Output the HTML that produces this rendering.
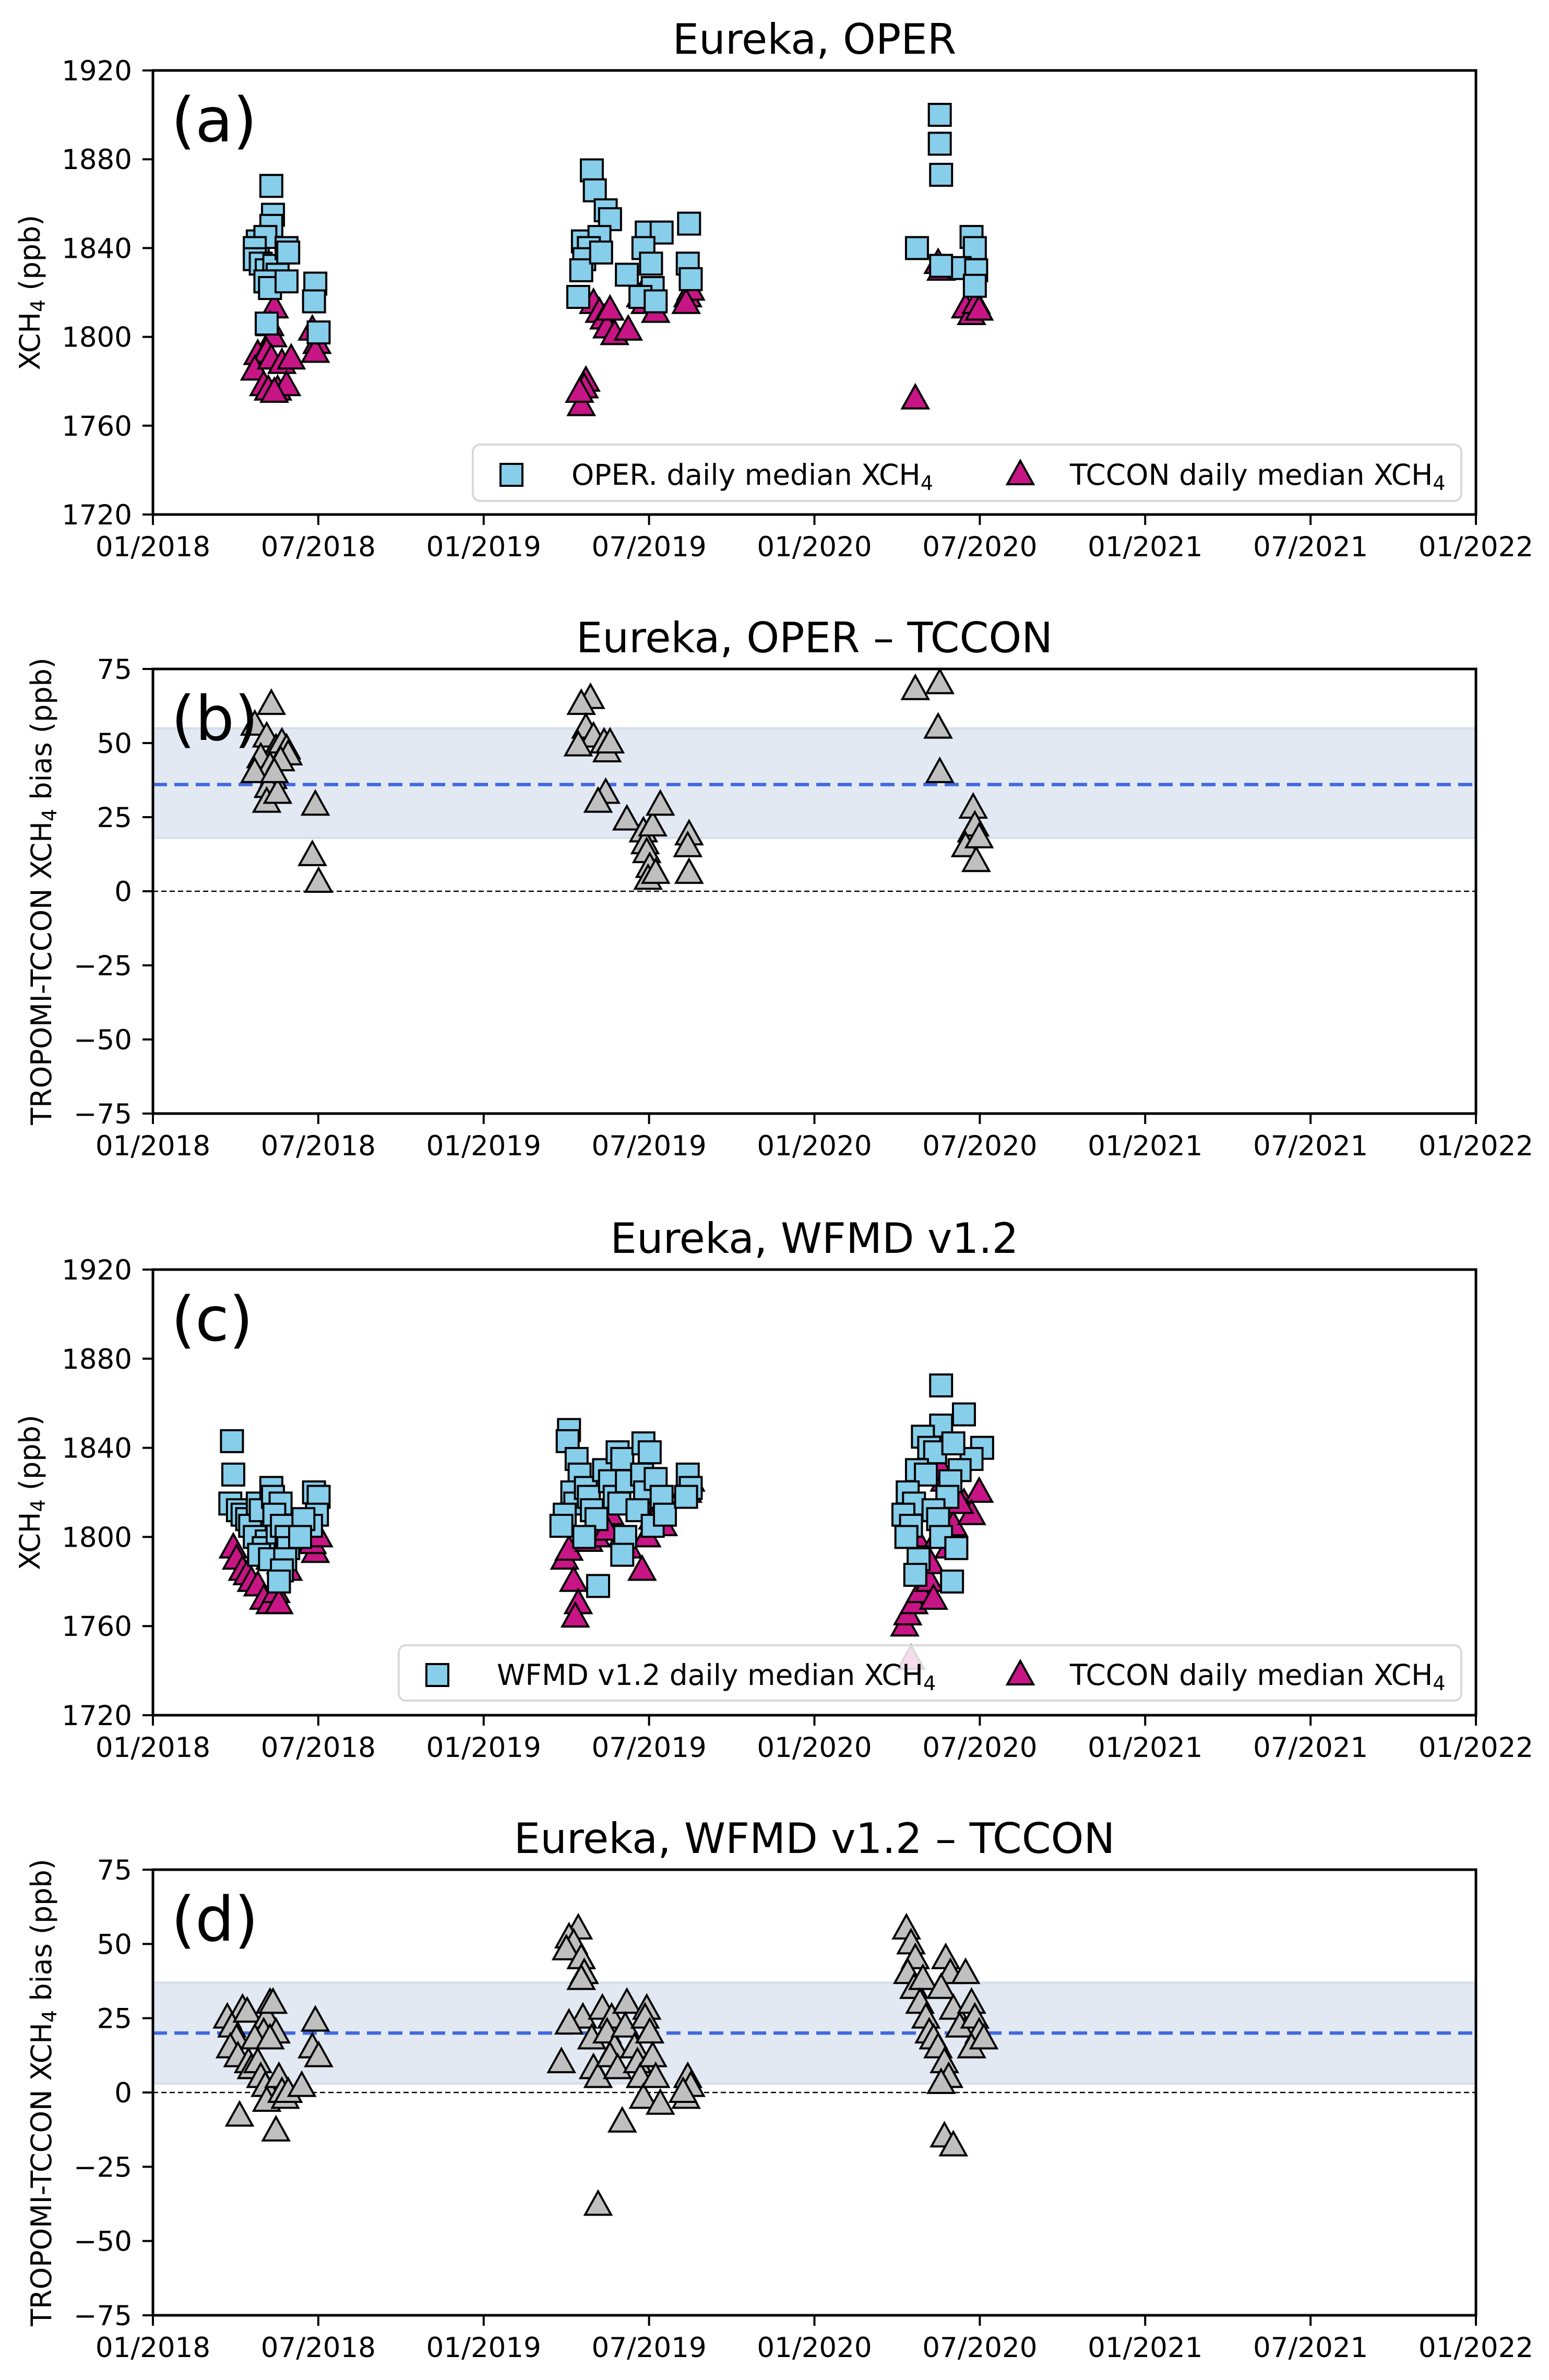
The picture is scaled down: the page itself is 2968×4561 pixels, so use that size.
<!DOCTYPE html>
<html><head><meta charset="utf-8"><title>Eureka XCH4 comparison</title>
<style>html,body{margin:0;padding:0;background:#fff}svg{display:block}text{font-family:"DejaVu Sans","Liberation Sans",sans-serif;fill:#000}</style>
</head><body>
<svg id="fig" xmlns="http://www.w3.org/2000/svg" width="2968" height="4561" viewBox="0 0 2968 4561"></svg>
<script>
// ---------- DATA (x in decimal years, y in ppb) ----------
const xTickLabels = ["01/2018","07/2018","01/2019","07/2019","01/2020","07/2020","01/2021","07/2021","01/2022"];
const xTickYears = [2018,2018.5,2019,2019.5,2020,2020.5,2021,2021.5,2022];
const xchTicks = [1720,1760,1800,1840,1880,1920];
const biasTicks = [-75,-50,-25,0,25,50,75];

const operX = [2018.358,2018.363,2018.358,2018.317,2018.340,2018.308,2018.308,2018.326,2018.344,2018.367,2018.377,2018.340,2018.354,2018.404,2018.409,2018.404,2018.344,2018.491,2018.487,2018.501,
 2019.327,2019.336,2019.369,2019.382,2019.300,2019.350,2019.318,2019.304,2019.295,2019.286,2019.355,2019.433,2019.493,2019.538,2019.483,2019.506,2019.511,2019.474,2019.520,2019.621,2019.617,2019.626,
 2020.379,2020.379,2020.383,2020.310,2020.475,2020.485,2020.439,2020.489,2020.485,2020.383];
const operY = [1868,1855,1850,1843,1845,1840,1835,1833,1830,1832,1828,1825,1822,1840,1838,1825,1806,1824,1816,1802,
 1875,1866,1857,1853,1843,1845,1840,1835,1830,1818,1838,1828,1847,1847,1840,1833,1822,1818,1816,1851,1833,1826,
 1900,1887,1873,1840,1845,1840,1831,1830,1823,1832];
const tcconAX = [2018.367,2018.354,2018.363,2018.317,2018.331,2018.344,2018.308,2018.358,2018.390,2018.418,2018.335,2018.349,2018.377,2018.404,2018.367,2018.482,2018.496,2018.491,
 2019.309,2019.304,2019.295,2019.290,2019.332,2019.350,2019.364,2019.373,2019.396,2019.382,2019.437,2019.474,2019.488,2019.520,2019.617,2019.626,2019.612,
 2020.305,2020.374,2020.383,2020.457,2020.475,2020.489,2020.498];
const tcconAY = [1813,1805,1800,1792,1790,1793,1785,1790,1788,1790,1778,1776,1776,1778,1775,1803,1797,1793,
 1780,1777,1769,1775,1815,1811,1808,1804,1801,1812,1803,1818,1815,1811,1818,1821,1815,
 1772,1833,1830,1813,1810,1815,1812];

const biasBX = [2018.358,2018.308,2018.344,2018.372,2018.326,2018.390,2018.404,2018.409,2018.354,2018.308,2018.363,2018.349,2018.344,2018.377,2018.491,2018.482,2018.501,2018.386,2018.367,
 2019.323,2019.295,2019.309,2019.332,2019.286,2019.364,2019.373,2019.382,2019.369,2019.346,2019.433,2019.483,2019.488,2019.493,2019.502,2019.497,2019.511,2019.534,2019.520,2019.621,2019.617,2019.621,
 2020.305,2020.379,2020.374,2020.379,2020.480,2020.475,2020.485,2020.457,2020.489,2020.498];
const biasBY = [63,56,52,48,45,50,48,46,42,40,38,35,30,33,29,12,3,44,40,
 65,63,55,52,49,50,47,50,33,30,24,20,16,13,8,4,22,29,6,19,15,6,
 68,70,55,40,28,20,22,15,10,18];
const biasBMean = [36];
const biasBBand = [18,55];

const wfmdX = [2018.239,2018.243,2018.234,2018.257,2018.271,2018.285,2018.294,2018.317,2018.326,2018.308,2018.344,2018.335,2018.321,2018.354,2018.377,2018.358,2018.363,2018.386,2018.367,2018.390,2018.404,2018.409,2018.400,2018.390,2018.381,2018.487,2018.501,2018.496,2018.478,2018.455,2018.445,
 2019.258,2019.254,2019.281,2019.290,2019.268,2019.277,2019.245,2019.235,2019.309,2019.318,2019.327,2019.341,2019.304,2019.346,2019.364,2019.382,2019.396,2019.405,2019.419,2019.433,2019.410,2019.428,2019.419,2019.483,2019.502,2019.479,2019.488,2019.465,2019.511,2019.520,2019.538,2019.548,2019.617,2019.626,2019.612,
 2020.383,2020.383,2020.452,2020.328,2020.347,2020.365,2020.310,2020.337,2020.282,2020.301,2020.269,2020.292,2020.278,2020.315,2020.305,2020.416,2020.507,2020.475,2020.439,2020.411,2020.402,2020.360,2020.374,2020.383,2020.429,2020.420];
const wfmdY = [1843,1828,1815,1812,1810,1808,1805,1815,1812,1800,1798,1795,1792,1790,1802,1822,1818,1815,1810,1805,1800,1795,1790,1785,1780,1820,1818,1810,1805,1808,1800,
 1848,1843,1835,1828,1820,1815,1810,1805,1822,1818,1812,1808,1800,1778,1830,1825,1818,1838,1835,1825,1815,1800,1792,1842,1838,1828,1820,1812,1805,1826,1818,1810,1828,1822,1818,
 1868,1850,1855,1845,1840,1838,1830,1828,1820,1815,1810,1805,1800,1790,1783,1780,1840,1835,1830,1825,1818,1812,1808,1800,1795,1842];
const tcconCX = [2018.243,2018.253,2018.271,2018.285,2018.298,2018.317,2018.335,2018.354,2018.372,2018.381,2018.344,2018.363,2018.390,2018.400,2018.354,2018.386,2018.491,2018.482,2018.501,2018.409,
 2019.245,2019.258,2019.272,2019.286,2019.277,2019.318,2019.341,2019.359,2019.382,2019.401,2019.419,2019.437,2019.479,2019.493,2019.511,2019.534,2019.543,2019.617,2019.626,2019.612,2019.373,
 2020.292,2020.273,2020.282,2020.301,2020.319,2020.347,2020.360,2020.337,2020.305,2020.406,2020.420,2020.452,2020.498,2020.393,2020.383,2020.475,2020.439,2020.351,2020.374];
const tcconCY = [1795,1790,1785,1783,1780,1778,1772,1770,1775,1770,1800,1805,1808,1795,1790,1788,1793,1797,1800,1785,
 1790,1794,1780,1770,1764,1798,1800,1805,1810,1815,1800,1795,1785,1800,1808,1812,1805,1820,1825,1822,1803,
 1745,1760,1765,1770,1775,1780,1772,1790,1800,1795,1805,1815,1820,1825,1830,1810,1815,1788,1800];

const biasDX = [2018.225,2018.271,2018.239,2018.253,2018.234,2018.257,2018.289,2018.298,2018.285,2018.354,2018.344,2018.335,2018.308,2018.317,2018.326,2018.340,2018.344,2018.262,2018.363,2018.372,2018.381,2018.390,2018.400,2018.409,2018.372,2018.450,2018.491,2018.482,2018.501,2018.354,
 2019.286,2019.258,2019.272,2019.250,2019.295,2019.304,2019.295,2019.300,2019.258,2019.235,2019.327,2019.332,2019.346,2019.359,2019.387,2019.373,2019.396,2019.382,2019.405,2019.419,2019.433,2019.428,2019.456,2019.465,2019.474,2019.493,2019.488,2019.502,2019.511,2019.483,2019.520,2019.534,2019.346,2019.617,2019.626,2019.612,2019.603,
 2020.278,2020.292,2020.305,2020.282,2020.301,2020.328,2020.319,2020.337,2020.347,2020.360,2020.374,2020.397,2020.411,2020.383,2020.420,2020.439,2020.393,2020.406,2020.383,2020.393,2020.420,2020.457,2020.475,2020.485,2020.498,2020.475,2020.512];
const biasDY = [25,28,22,18,15,12,10,8,27,30,25,20,18,10,5,2,-3,-8,30,20,5,0,-2,0,-13,2,24,15,12,18,
 55,52,50,48,45,40,38,25,23,10,18,8,5,28,25,20,15,12,8,-10,30,22,15,10,5,28,25,20,12,-2,5,-4,-38,5,2,-2,0,
 55,50,45,40,35,38,30,25,20,18,15,45,40,35,28,22,10,5,3,-15,-18,40,30,25,20,15,18];
const biasDMean = [20];
const biasDBand = [3,37];

// ---------- LAYOUT ----------
const NS = "http://www.w3.org/2000/svg";
const svg = document.getElementById("fig");
const L = 293, R = 2828;
const panels = [
  {id:"a", top:135, bot:986, title:"Eureka, OPER", ymin:1720, ymax:1920, ticks:xchTicks, ylab:"XCH4", kind:"xch",
   sx:operX, sy:operY, tx:tcconAX, ty:tcconAY, leg:{x:906,y:852,w:1894,h:108,lab1:"OPER. daily median XCH",l1x:1095,m1x:980,m2x:1955,l2x:2050}},
  {id:"b", top:1282, bot:2134, title:"Eureka, OPER \u2013 TCCON", ymin:-75, ymax:75, ticks:biasTicks, ylab:"bias", kind:"bias",
   bx:biasBX, by:biasBY, mean:biasBMean, band:biasBBand},
  {id:"c", top:2433, bot:3287, title:"Eureka, WFMD v1.2", ymin:1720, ymax:1920, ticks:xchTicks, ylab:"XCH4", kind:"xch",
   sx:wfmdX, sy:wfmdY, tx:tcconCX, ty:tcconCY, leg:{x:764,y:3153,w:2036,h:106,lab1:"WFMD v1.2 daily median XCH",l1x:952,m1x:838,m2x:1955,l2x:2050}},
  {id:"d", top:3583, bot:4437, title:"Eureka, WFMD v1.2 \u2013 TCCON", ymin:-75, ymax:75, ticks:biasTicks, ylab:"bias", kind:"bias",
   bx:biasDX, by:biasDY, mean:biasDMean, band:biasDBand}
];

function mk(tag, attrs, parent){
  const e = document.createElementNS(NS, tag);
  for (const k in attrs) e.setAttribute(k, attrs[k]);
  (parent||svg).appendChild(e);
  return e;
}
function xScale(yr){ return L + (yr-2018)/4*(R-L); }

function square(g, cx, cy){
  const s = mk("rect", {x:cx-21, y:cy-21, width:42, height:42, fill:"#87ceeb", stroke:"#000", "stroke-width":4}, g);
  
  
  return s;
}
function tri(g, cx, cy, fill){
  const p = mk("polygon", {points:`${cx},${cy-27} ${cx+25},${cy+18} ${cx-25},${cy+18}`, fill:fill, stroke:"#000", "stroke-width":4, "stroke-linejoin":"miter"}, g);
  
  
  return p;
}

panels.forEach(p => {
  const g = mk("g", {});
  
  
  const yS = v => p.bot - (v - p.ymin)/(p.ymax - p.ymin)*(p.bot - p.top);

  if (p.kind === "bias") {
    const band = mk("rect", {x:L, y:yS(p.band[1]), width:R-L, height:yS(p.band[0])-yS(p.band[1]), fill:"#e3e9f3", stroke:"#d6deea", "stroke-width":4}, g);
    
    
    const zero = mk("line", {x1:L, x2:R, y1:yS(0), y2:yS(0), stroke:"#000", "stroke-width":2.5, "stroke-dasharray":"10 6"}, g);
    
    
    const mean = mk("line", {x1:L, x2:R, y1:yS(p.mean[0]), y2:yS(p.mean[0]), stroke:"#4169e1", "stroke-width":6.5, "stroke-dasharray":"27 14"}, g);
    
    
    for (let i=0;i<p.bx.length;i++) tri(g, xScale(p.bx[i]), yS(p.by[i]), "#bfbfbf");
  } else {
    for (let i=0;i<p.tx.length;i++) tri(g, xScale(p.tx[i]), yS(p.ty[i]), "#c71585");
    for (let i=0;i<p.sx.length;i++) square(g, xScale(p.sx[i]), yS(p.sy[i]));
    const lg = mk("g", {}, g);
    
    
    const lb = mk("rect", {x:p.leg.x, y:p.leg.y, width:p.leg.w, height:p.leg.h, rx:14, fill:"#fff", "fill-opacity":0.85, stroke:"#d9d9d9", "stroke-width":4}, lg);
    
    
    const cy = p.leg.y + p.leg.h/2 + 4;
    square(lg, p.leg.m1x, cy);
    const t1 = mk("text", {x:p.leg.l1x, y:cy+19, "font-size":55}, lg);
    
    
    t1.innerHTML = p.leg.lab1 + '<tspan font-size="38" dy="10">4</tspan>';
    tri(lg, p.leg.m2x, cy, "#c71585");
    const t2 = mk("text", {x:p.leg.l2x, y:cy+19, "font-size":55}, lg);
    
    
    t2.innerHTML = 'TCCON daily median XCH<tspan font-size="38" dy="10">4</tspan>';
  }

  const frame = mk("rect", {x:L, y:p.top, width:R-L, height:p.bot-p.top, fill:"none", stroke:"#000", "stroke-width":5}, g);
  
  

  p.ticks.forEach(v => {
    const y = yS(v);
    const tk = mk("line", {x1:L-20, x2:L, y1:y, y2:y, stroke:"#000", "stroke-width":4}, g);
    
    
    const tl = mk("text", {x:L-40, y:y+19, "font-size":53, "text-anchor":"end"}, g);
    
    
    tl.textContent = (v < 0 ? "\u2212" + Math.abs(v) : String(v));
  });
  xTickYears.forEach((yr, i) => {
    const x = xScale(yr);
    const tk = mk("line", {x1:x, x2:x, y1:p.bot, y2:p.bot+20, stroke:"#000", "stroke-width":4}, g);
    
    
    const tl = mk("text", {x:x, y:p.bot+80, "font-size":53, "text-anchor":"middle"}, g);
    
    
    tl.textContent = xTickLabels[i];
  });

  const title = mk("text", {x:(L+R)/2, y:p.top-32, "font-size":80, "text-anchor":"middle"}, g);
  
  
  title.textContent = p.title;

  const lab = mk("text", {x:328, y:p.top+136, "font-size":118, "font-family":"Liberation Sans, sans-serif"}, g);
  
  
  lab.textContent = "(" + p.id + ")";

  const cyMid = (p.top+p.bot)/2;
  const yl = mk("text", {x:0, y:0, "font-size":p.kind==="bias"?54:54, "text-anchor":"middle", transform:`translate(${p.kind==="bias"?98:76},${cyMid}) rotate(-90)`}, g);
  
  
  if (p.kind === "bias") yl.innerHTML = 'TROPOMI-TCCON XCH<tspan font-size="38" dy="10">4</tspan><tspan dy="-10"> bias (ppb)</tspan>';
  else yl.innerHTML = 'XCH<tspan font-size="38" dy="10">4</tspan><tspan dy="-10"> (ppb)</tspan>';
});
</script>
</body></html>
